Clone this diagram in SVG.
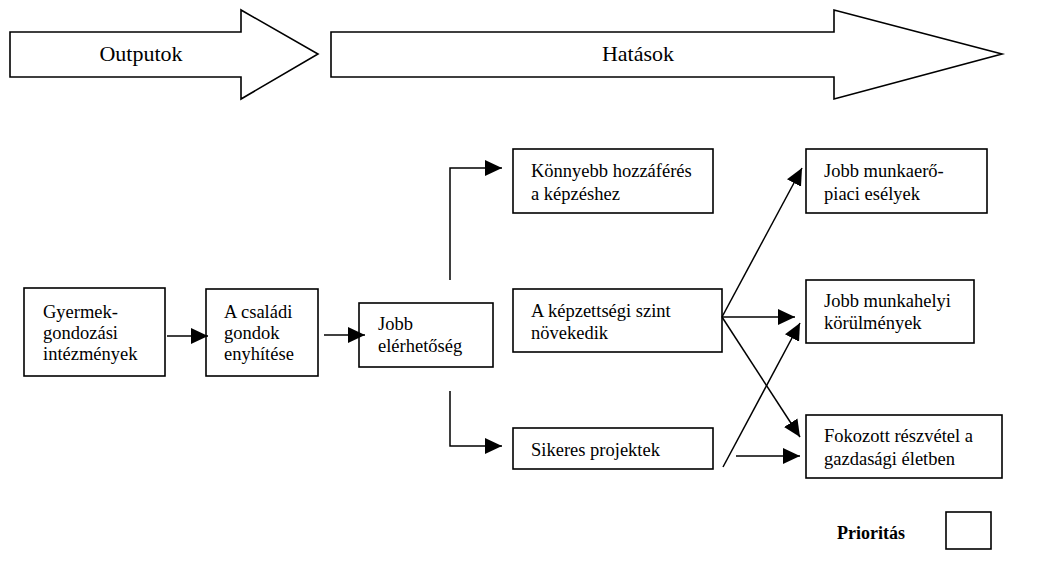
<svg xmlns="http://www.w3.org/2000/svg" width="1044" height="563" viewBox="0 0 1044 563">
<style>
.box{fill:#fff;stroke:#000;stroke-width:1.6}
.big{fill:#fff;stroke:#000;stroke-width:1.6;stroke-linejoin:miter}
text{font-family:'Liberation Serif','Times New Roman','DejaVu Serif',serif;fill:#000}
.t{font-size:18.5px}
.h{font-size:22px;text-anchor:middle}
.b{font-size:18px;font-weight:bold}
.c{fill:none;stroke:#000;stroke-width:1.5}
</style>
<defs>
<marker id="ah" markerUnits="userSpaceOnUse" markerWidth="18" markerHeight="17" refX="17" refY="8" orient="auto">
<path d="M0,0 L17,8 L0,16 z" fill="#000"/>
</marker>
</defs>
<g id="outputok">
<path class="big" d="M10,32 H241 V10 L318,54 L241,99 V77 H10 z"/>
<text class="h" x="141" y="61">Outputok</text>
</g>
<g id="hatasok">
<path class="big" d="M331,32 H834 V10 L1002,54 L834,99 V77 H331 z"/>
<text class="h" x="638" y="61">Hatások</text>
</g>
<g id="n1">
<rect class="box" x="24" y="288" width="141" height="88"/>
<text class="t" x="43" y="318">Gyermek-</text>
<text class="t" x="43" y="339">gondozási</text>
<text class="t" x="43" y="360">intézmények</text>
</g>
<g id="n2">
<rect class="box" x="206" y="289" width="112" height="87"/>
<text class="t" x="224" y="318">A családi</text>
<text class="t" x="224" y="339">gondok</text>
<text class="t" x="224" y="360">enyhítése</text>
</g>
<g id="n3">
<rect class="box" x="359" y="303" width="134" height="64"/>
<text class="t" x="378" y="330">Jobb</text>
<text class="t" x="378" y="352">elérhetőség</text>
</g>
<g id="n4">
<rect class="box" x="513" y="149" width="200" height="64"/>
<text class="t" x="531" y="177">Könnyebb hozzáférés</text>
<text class="t" x="531" y="200">a képzéshez</text>
</g>
<g id="n5">
<rect class="box" x="513" y="289" width="209" height="63"/>
<text class="t" x="531" y="317">A képzettségi szint</text>
<text class="t" x="531" y="339">növekedik</text>
</g>
<g id="n6">
<rect class="box" x="513" y="428" width="200" height="41"/>
<text class="t" x="531" y="456">Sikeres projektek</text>
</g>
<g id="n7">
<rect class="box" x="806" y="149" width="181" height="64"/>
<text class="t" x="824" y="177">Jobb munkaerő-</text>
<text class="t" x="824" y="200">piaci esélyek</text>
</g>
<g id="n8">
<rect class="box" x="806" y="280" width="168" height="63"/>
<text class="t" x="824" y="307">Jobb munkahelyi</text>
<text class="t" x="824" y="329">körülmények</text>
</g>
<g id="n9">
<rect class="box" x="806" y="415" width="196" height="63"/>
<text class="t" x="824" y="442">Fokozott részvétel a</text>
<text class="t" x="824" y="465">gazdasági életben</text>
</g>
<g id="legend">
<text class="b" x="837" y="539">Prioritás</text>
<rect class="box" x="946" y="512" width="45" height="37"/>
</g>
<g id="connectors">
<line class="c" x1="167" y1="336" x2="208" y2="336" marker-end="url(#ah)"/>
<line class="c" x1="324" y1="335" x2="365" y2="335" marker-end="url(#ah)"/>
<polyline class="c" points="450,280 450,168 502,168" marker-end="url(#ah)"/>
<polyline class="c" points="450,391 450,446 502,446" marker-end="url(#ah)"/>
<line class="c" x1="722" y1="317" x2="802" y2="168" marker-end="url(#ah)"/>
<line class="c" x1="722" y1="317" x2="795" y2="317" marker-end="url(#ah)"/>
<line class="c" x1="722" y1="317" x2="800" y2="437" marker-end="url(#ah)"/>
<line class="c" x1="723" y1="467" x2="800" y2="323" marker-end="url(#ah)"/>
<line class="c" x1="736" y1="456" x2="800" y2="456" marker-end="url(#ah)"/>
</g>
</svg>
